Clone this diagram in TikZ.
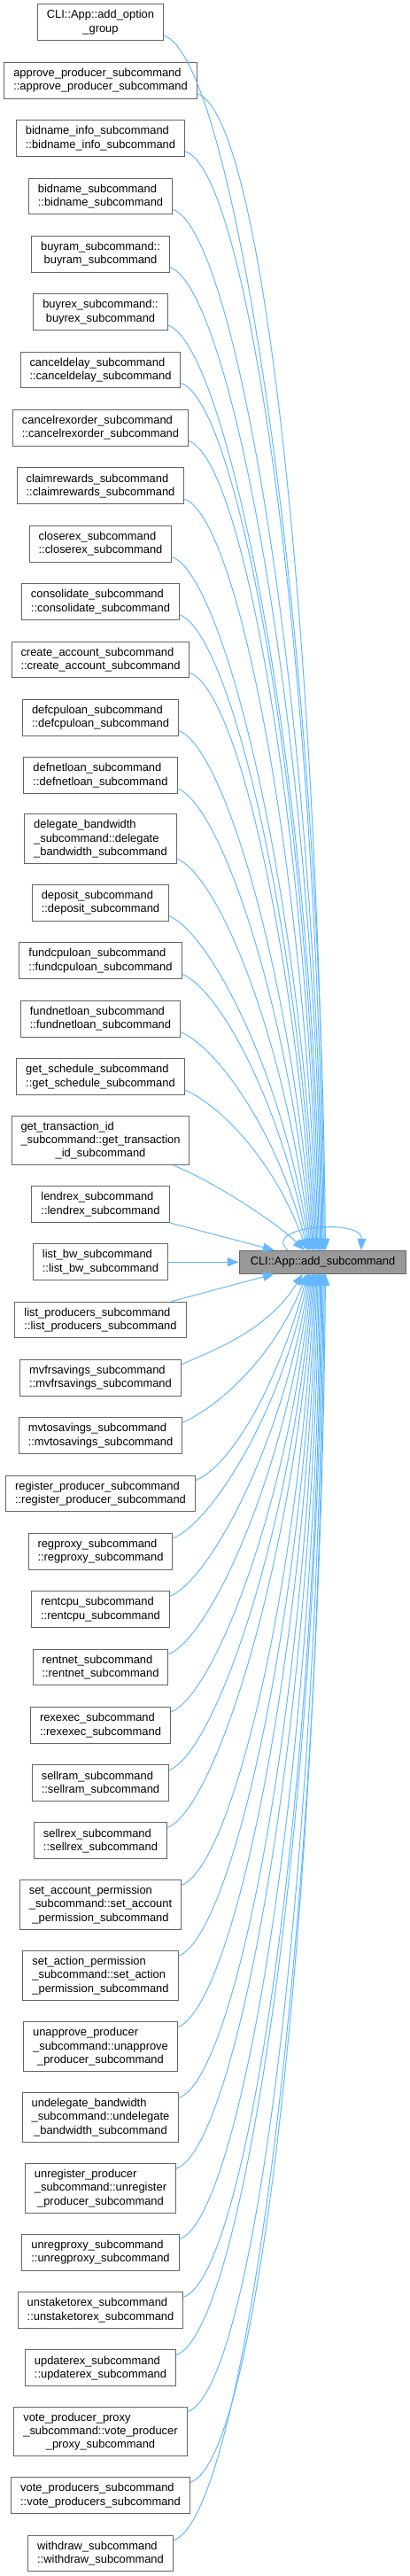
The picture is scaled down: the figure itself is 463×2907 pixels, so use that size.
\documentclass[tikz,border=0pt]{standalone}
\usepackage{fontspec}
\setmainfont{Liberation Sans}
\usetikzlibrary{arrows.meta}

\definecolor{edgeblue}{HTML}{63B8FF}
\definecolor{boxline}{HTML}{666666}
\definecolor{tgtfill}{HTML}{999999}

% canh tu nut goi (#1) den nut duoc goi; #2 = khoang cach doc, #3 = vi tri dau mui ten
\newcommand{\edgeabove}[3]{%
  \pgfmathsetmacro\cxa{30+0.035*#2}%
  \pgfmathsetmacro\cya{15+0.007*#2}%
  \pgfmathsetmacro\cxb{-max(5,45-0.035*#2)}%
  \pgfmathsetmacro\cyb{0.5*#2}%
  \draw[edge] ([yshift=6pt]#1.south east) .. controls +(\cxa,\cya) and +(\cxb,-\cyb) .. ([xshift=#3pt]tgt.north west);}
\newcommand{\edgebelow}[3]{%
  \pgfmathsetmacro\cxa{30+0.035*#2}%
  \pgfmathsetmacro\cya{15+0.007*#2}%
  \pgfmathsetmacro\cxb{-max(5,45-0.035*#2)}%
  \pgfmathsetmacro\cyb{0.5*#2}%
  \draw[edge] ([yshift=-6pt]#1.north east) .. controls +(\cxa,-\cya) and +(\cxb,\cyb) .. ([xshift=#3pt]tgt.south west);}

\begin{document}
\begin{tikzpicture}[x=1pt, y=-1pt,
    caller/.style={draw=boxline, line width=1pt, fill=white, align=left,
      inner xsep=10.5pt, inner ysep=3pt, font=\fontsize{12.9}{15.3}\selectfont},
    two/.style={caller, minimum height=40.7pt},
    three/.style={caller, minimum height=55.7pt},
    edge/.style={draw=edgeblue, line width=1pt, -{Triangle[length=13pt,width=10pt]}}]
  \useasboundingbox (0,0) rectangle (463,2907);

  % Ham duoc goi
  \node[caller, fill=tgtfill, minimum height=25.7pt, inner xsep=12.5pt] (tgt) at (364.5,1424.2) {CLI::App::add\_subcommand};
  \draw[edge] ([xshift=55pt]tgt.north west) .. controls +(-30,-28) and +(2,-36) .. ([xshift=138pt]tgt.north west);

  % Cac ham goi phia tren
  \node[two] (optgroup) at (113.5,25.3) {CLI::App::add\_option\\\hfil\_group};
  \node[two] (approve) at (113.5,90.8) {approve\_producer\_subcommand\\\hfil::approve\_producer\_subcommand};
  \node[two] (bidinfo) at (113.5,156) {bidname\_info\_subcommand\\\hfil::bidname\_info\_subcommand};
  \node[two] (bidname) at (113.5,221.5) {bidname\_subcommand\\\hfil::bidname\_subcommand};
  \node[two] (buyram) at (113.5,286.8) {buyram\_subcommand::\\\hfil buyram\_subcommand};
  \node[two] (buyrex) at (113.5,352.2) {buyrex\_subcommand::\\\hfil buyrex\_subcommand};
  \node[two] (canceldelay) at (113.5,417.5) {canceldelay\_subcommand\\\hfil::canceldelay\_subcommand};
  \node[two] (cancelrex) at (113.5,482.7) {cancelrexorder\_subcommand\\\hfil::cancelrexorder\_subcommand};
  \node[two] (claim) at (113.5,548.3) {claimrewards\_subcommand\\\hfil::claimrewards\_subcommand};
  \node[two] (closerex) at (113.5,613.7) {closerex\_subcommand\\\hfil::closerex\_subcommand};
  \node[two] (consolidate) at (113.5,679) {consolidate\_subcommand\\\hfil::consolidate\_subcommand};
  \node[two] (createacc) at (113.5,744.5) {create\_account\_subcommand\\\hfil::create\_account\_subcommand};
  \node[two] (defcpu) at (113.5,809.7) {defcpuloan\_subcommand\\\hfil::defcpuloan\_subcommand};
  \node[two] (defnet) at (113.5,875) {defnetloan\_subcommand\\\hfil::defnetloan\_subcommand};
  \node[three] (delegate) at (113.5,946.8) {delegate\_bandwidth\\\_subcommand::delegate\\\hfil\_bandwidth\_subcommand};
  \node[two] (deposit) at (113.5,1019) {deposit\_subcommand\\\hfil::deposit\_subcommand};
  \node[two] (fundcpu) at (113.5,1084.3) {fundcpuloan\_subcommand\\\hfil::fundcpuloan\_subcommand};
  \node[two] (fundnet) at (113.5,1149.7) {fundnetloan\_subcommand\\\hfil::fundnetloan\_subcommand};
  \node[two] (getsched) at (113.5,1215) {get\_schedule\_subcommand\\\hfil::get\_schedule\_subcommand};
  \node[three] (gettrx) at (113.5,1287) {get\_transaction\_id\\\_subcommand::get\_transaction\\\hfil\_id\_subcommand};
  \node[two] (lendrex) at (113.5,1359) {lendrex\_subcommand\\\hfil::lendrex\_subcommand};
  \node[two] (listbw) at (113.5,1424.2) {list\_bw\_subcommand\\\hfil::list\_bw\_subcommand};

  % Cac ham goi phia duoi
  \node[two] (listprod) at (113.5,1489.5) {list\_producers\_subcommand\\\hfil::list\_producers\_subcommand};
  \node[two] (mvfr) at (113.5,1554.8) {mvfrsavings\_subcommand\\\hfil::mvfrsavings\_subcommand};
  \node[two] (mvto) at (113.5,1620.2) {mvtosavings\_subcommand\\\hfil::mvtosavings\_subcommand};
  \node[two] (regprod) at (113.5,1685.5) {register\_producer\_subcommand\\\hfil::register\_producer\_subcommand};
  \node[two] (regproxy) at (113.5,1750.8) {regproxy\_subcommand\\\hfil::regproxy\_subcommand};
  \node[two] (rentcpu) at (113.5,1816.2) {rentcpu\_subcommand\\\hfil::rentcpu\_subcommand};
  \node[two] (rentnet) at (113.5,1881.5) {rentnet\_subcommand\\\hfil::rentnet\_subcommand};
  \node[two] (rexexec) at (113.5,1947) {rexexec\_subcommand\\\hfil::rexexec\_subcommand};
  \node[two] (sellram) at (113.5,2012.3) {sellram\_subcommand\\\hfil::sellram\_subcommand};
  \node[two] (sellrex) at (113.5,2077.3) {sellrex\_subcommand\\\hfil::sellrex\_subcommand};
  \node[three] (setaccperm) at (113.5,2149.5) {set\_account\_permission\\\_subcommand::set\_account\\\hfil\_permission\_subcommand};
  \node[three] (setactperm) at (113.5,2229.5) {set\_action\_permission\\\_subcommand::set\_action\\\hfil\_permission\_subcommand};
  \node[three] (unapprove) at (113.5,2309.7) {unapprove\_producer\\\_subcommand::unapprove\\\hfil\_producer\_subcommand};
  \node[three] (undelegate) at (113.5,2389.5) {undelegate\_bandwidth\\\_subcommand::undelegate\\\hfil\_bandwidth\_subcommand};
  \node[three] (unregprod) at (113.5,2469.5) {unregister\_producer\\\_subcommand::unregister\\\hfil\_producer\_subcommand};
  \node[two] (unregproxy) at (113.5,2541.7) {unregproxy\_subcommand\\\hfil::unregproxy\_subcommand};
  \node[two] (unstake) at (113.5,2607) {unstaketorex\_subcommand\\\hfil::unstaketorex\_subcommand};
  \node[two] (updaterex) at (113.5,2672.3) {updaterex\_subcommand\\\hfil::updaterex\_subcommand};
  \node[three] (voteproxy) at (113.5,2744) {vote\_producer\_proxy\\\_subcommand::vote\_producer\\\hfil\_proxy\_subcommand};
  \node[two] (voteprods) at (113.5,2816.2) {vote\_producers\_subcommand\\\hfil::vote\_producers\_subcommand};
  \node[two] (withdraw) at (113.5,2881.5) {withdraw\_subcommand\\\hfil::withdraw\_subcommand};

  % Canh
  \edgeabove{optgroup}{1398.9}{97.7}
  \edgeabove{approve}{1333.4}{96.5}
  \edgeabove{bidinfo}{1268.2}{95.4}
  \edgeabove{bidname}{1202.7}{94.2}
  \edgeabove{buyram}{1137.4}{93.0}
  \edgeabove{buyrex}{1072}{91.9}
  \edgeabove{canceldelay}{1006.7}{90.7}
  \edgeabove{cancelrex}{941.5}{89.5}
  \edgeabove{claim}{875.9}{88.3}
  \edgeabove{closerex}{810.5}{87.2}
  \edgeabove{consolidate}{745.2}{86.0}
  \edgeabove{createacc}{679.7}{84.8}
  \edgeabove{defcpu}{614.5}{83.7}
  \edgeabove{defnet}{549.2}{82.5}
  \edgeabove{delegate}{477.4}{81.3}
  \edgeabove{deposit}{405.2}{80.2}
  \edgeabove{fundcpu}{339.9}{79.0}
  \edgeabove{fundnet}{274.5}{77.8}
  \edgeabove{getsched}{209.2}{76.6}
  \draw[edge] ([xshift=-18pt]gettrx.south east) .. controls +(45,18) and +(-30,-30) .. ([xshift=74pt]tgt.north west);
  \draw[edge] (lendrex.south east) -- ([xshift=40pt]tgt.north west);
  \draw[edge] (listbw) -- (tgt);
  \draw[edge] ([xshift=-17pt]listprod.north east) -- ([xshift=40pt]tgt.south west);
  \edgebelow{mvfr}{130.6}{72.0}
  \edgebelow{mvto}{196}{76.6}
  \edgebelow{regprod}{261.3}{77.8}
  \edgebelow{regproxy}{326.6}{79.0}
  \edgebelow{rentcpu}{392}{80.2}
  \edgebelow{rentnet}{457.3}{81.3}
  \edgebelow{rexexec}{522.8}{82.5}
  \edgebelow{sellram}{588.1}{83.7}
  \edgebelow{sellrex}{653.1}{84.8}
  \edgebelow{setaccperm}{725.3}{86.0}
  \edgebelow{setactperm}{805.3}{87.2}
  \edgebelow{unapprove}{885.5}{88.3}
  \edgebelow{undelegate}{965.3}{89.5}
  \edgebelow{unregprod}{1045.3}{90.7}
  \edgebelow{unregproxy}{1117.5}{91.9}
  \edgebelow{unstake}{1182.8}{93.0}
  \edgebelow{updaterex}{1248.1}{94.2}
  \edgebelow{voteproxy}{1319.8}{95.4}
  \edgebelow{voteprods}{1392}{96.5}
  \edgebelow{withdraw}{1457.3}{97.7}
\end{tikzpicture}
\end{document}
